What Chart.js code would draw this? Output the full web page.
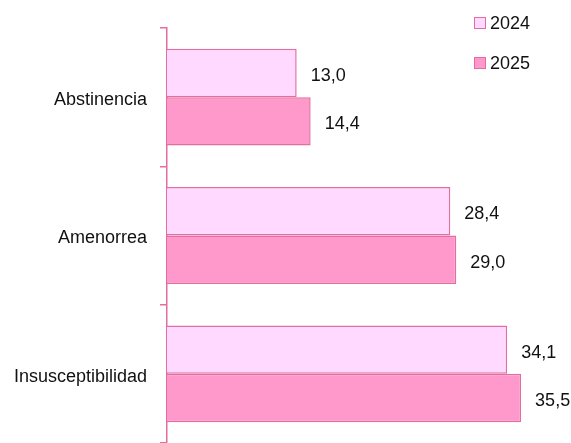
<!DOCTYPE html>
<html>
<head>
<meta charset="utf-8">
<script src="https://cdn.jsdelivr.net/npm/chart.js@4/dist/chart.umd.min.js"></script>
<style>
  html, body { margin: 0; padding: 0; background: #fff; }
  #wrap { width: 571px; height: 443px; }
</style>
</head>
<body>
<div id="wrap"><canvas id="chart" width="571" height="443"></canvas></div>
<script>
// Data
const categories = ["Abstinencia", "Amenorrea", "Insusceptibilidad"];
const seriesNames = ["2024", "2025"];
const values2024 = [13.0, 28.4, 34.1];
const values2025 = [14.4, 29.0, 35.5];

const FONT = "'Liberation Sans', Arial, sans-serif";
const EDGE = "#E36FA0";

// Value labels to the right of each bar
const valueLabels = {
  id: "valueLabels",
  afterDatasetsDraw(chart) {
    const ctx = chart.ctx;
    ctx.save();
    ctx.font = "18px " + FONT;
    ctx.fillStyle = "#111";
    ctx.textAlign = "left";
    ctx.textBaseline = "middle";
    chart.data.datasets.forEach((ds, i) => {
      chart.getDatasetMeta(i).data.forEach((bar, j) => {
        const txt = ds.data[j].toFixed(1).replace(".", ",");
        ctx.fillText(txt, bar.x + 14, bar.y + 3);
      });
    });
    ctx.restore();
  }
};

// Vertical legend in the top right corner
const cornerLegend = {
  id: "cornerLegend",
  afterDraw(chart) {
    const ctx = chart.ctx;
    ctx.save();
    ctx.font = "18px " + FONT;
    ctx.textBaseline = "middle";
    chart.data.datasets.forEach((ds, i) => {
      const y = 17 + i * 40;
      ctx.fillStyle = ds.backgroundColor;
      ctx.fillRect(474, y, 12, 12);
      ctx.strokeStyle = ds.borderColor;
      ctx.lineWidth = 1;
      ctx.strokeRect(474.5, y + 0.5, 11, 11);
      ctx.fillStyle = "#111";
      ctx.fillText(ds.label, 490, y + 7);
    });
    ctx.restore();
  }
};

new Chart(document.getElementById("chart"), {
  type: "bar",
  data: {
    labels: categories,
    datasets: [
      {
        label: seriesNames[0],
        data: values2024,
        backgroundColor: "#FFD9FF",
        borderColor: EDGE,
        borderWidth: 1.5,
        borderSkipped: "start",
      },
      {
        label: seriesNames[1],
        data: values2025,
        backgroundColor: "#FF99CC",
        borderColor: EDGE,
        borderWidth: 1.5,
        borderSkipped: "start",
      },
    ],
  },
  options: {
    indexAxis: "y",
    responsive: false,
    animation: false,
    categoryPercentage: 0.7,
    barPercentage: 1.0,
    layout: { padding: { top: 28, right: 5, bottom: 0, left: 0 } },
    plugins: {
      legend: { display: false },
      tooltip: { enabled: false },
    },
    scales: {
      x: {
        display: false,
        min: 0,
        max: 40,
      },
      y: {
        afterFit(scale) {
          scale.width = 167;
          // let the axis run down to the bottom edge
          scale.paddingTop = 0;
          scale.paddingBottom = 0;
        },
        border: { display: true, color: EDGE, width: 1.5 },
        grid: {
          offset: true,
          drawOnChartArea: false,
          tickLength: 7,
          color: EDGE,
          lineWidth: 1.5,
        },
        ticks: {
          padding: 13,
          labelOffset: 3,
          color: "#111",
          font: { family: FONT, size: 18 },
        },
      },
    },
  },
  plugins: [valueLabels, cornerLegend],
});
</script>
</body>
</html>
